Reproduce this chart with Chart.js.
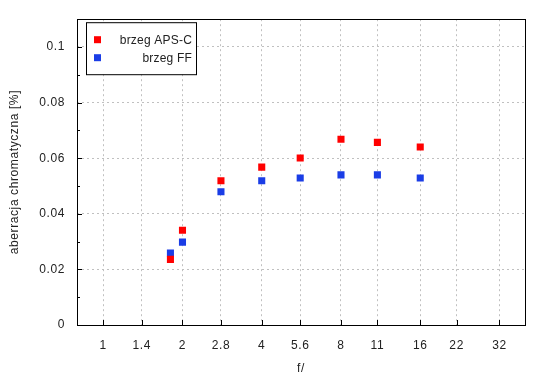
<!DOCTYPE html>
<html>
<head>
<meta charset="utf-8">
<script src="https://cdn.jsdelivr.net/npm/chart.js@4/dist/chart.umd.min.js"></script>
<style>
  html, body { margin: 0; padding: 0; background: #fff; }
  #wrap { width: 550px; height: 380px; }
</style>
</head>
<body>
<div id="wrap"><canvas id="chromChart" width="550" height="380"></canvas></div>
<script>
// przyslony (f/) dla punktow pomiarowych
const apertures = [1.8, 2, 2.8, 4, 5.6, 8, 11, 16];
// aberracja chromatyczna [%]
const edgeApsc = [0.0236, 0.0341, 0.0519, 0.0568, 0.0601, 0.0668, 0.0657, 0.0640];
const edgeFf = [0.0259, 0.0298, 0.0479, 0.0519, 0.0529, 0.0540, 0.0540, 0.0529];

// opisy osi
const fTicks = [1, 1.4, 2, 2.8, 4, 5.6, 8, 11, 16, 22, 32];
const fLabels = ["1", "1.4", "2", "2.8", "4", "5.6", "8", "11", "16", "22", "32"];
const yTicks = [0, 0.02, 0.04, 0.06, 0.08, 0.1];
const yLabels = ["0", "0.02", "0.04", "0.06", "0.08", "0.1"];
const yMinorTicks = [0.01, 0.03, 0.05, 0.07, 0.09];

const FONT = "'Liberation Sans', Arial, sans-serif";
const TEXT_COLOR = "#222";

function toPoints(ys) {
  return apertures.map((f, i) => ({ x: f, y: ys[i] }));
}

//troche szerszy tekst, jak w oryginale
const spacing = {
  id: "spacing",
  beforeDraw(chart) {
    chart.ctx.letterSpacing = "0.6px";
  },
};

//ramka wykresu + znaczniki do srodka (jak w gnuplocie)
const frameTicks = {
  id: "frameTicks",
  afterDraw(chart) {
    const ctx = chart.ctx;
    const a = chart.chartArea;
    const xs = chart.scales.x;
    const ys = chart.scales.y;
    ctx.save();
    ctx.strokeStyle = "#000";
    ctx.lineWidth = 1;
    ctx.beginPath();
    fTicks.forEach(v => {
      const px = Math.round(xs.getPixelForValue(v)) + 0.5;
      ctx.moveTo(px, a.bottom);
      ctx.lineTo(px, a.bottom - 5);
    });
    yTicks.forEach(v => {
      const py = Math.round(ys.getPixelForValue(v)) + 0.5;
      ctx.moveTo(a.left, py);
      ctx.lineTo(a.left + 5, py);
    });
    yMinorTicks.forEach(v => {
      const py = Math.round(ys.getPixelForValue(v)) + 0.5;
      ctx.moveTo(a.left, py);
      ctx.lineTo(a.left + 3, py);
    });
    ctx.stroke();
    ctx.strokeRect(Math.round(a.left) + 0.5, Math.round(a.top) + 0.5,
      Math.round(a.right - a.left), Math.round(a.bottom - a.top));
    ctx.restore();
  },
};

//legenda w ramce, tekst wyrownany do prawej
const boxLegend = {
  id: "boxLegend",
  afterDraw(chart) {
    const ctx = chart.ctx;
    const a = chart.chartArea;
    const left = a.left + 9, top = a.top + 3, w = 110, h = 52;
    ctx.save();
    ctx.letterSpacing = "0.2px";
    ctx.fillStyle = "#fff";
    ctx.fillRect(left, top, w, h);
    ctx.strokeStyle = "#000";
    ctx.lineWidth = 1;
    ctx.strokeRect(left + 0.5, top + 0.5, w, h);
    ctx.font = "12px " + FONT;
    ctx.textAlign = "right";
    ctx.textBaseline = "middle";
    chart.data.datasets.forEach((ds, i) => {
      const cy = top + 17 + i * 18;
      ctx.fillStyle = ds.backgroundColor;
      ctx.fillRect(left + 8, cy - 3, 7, 7);
      ctx.fillStyle = TEXT_COLOR;
      ctx.fillText(ds.label, left + w - 4, cy + 1);
    });
    ctx.restore();
  },
};

const config = {
  type: "scatter",
  data: {
    datasets: [
      {
        label: "brzeg APS-C",
        data: toPoints(edgeApsc),
        backgroundColor: "#ff0000",
        borderColor: "#ff0000",
        pointStyle: "rect",
        pointRadius: 5,
        borderWidth: 0,
      },
      {
        label: "brzeg FF",
        data: toPoints(edgeFf),
        backgroundColor: "#1a3de6",
        borderColor: "#1a3de6",
        pointStyle: "rect",
        pointRadius: 5,
        borderWidth: 0,
      },
    ],
  },
  options: {
    responsive: false,
    animation: false,
    layout: { padding: { left: 0, top: 16, right: 25, bottom: 0 } },
    plugins: {
      legend: { display: false },
      tooltip: { enabled: false },
    },
    scales: {
      x: {
        type: "logarithmic",
        min: 0.795,
        max: 40,
        afterBuildTicks: s => { s.ticks = fTicks.map(v => ({ value: v })); },
        afterFit: s => { s.height = 55; },
        grid: { color: "#c0c0c0", lineWidth: 1, drawTicks: false },
        border: { display: false, dash: [2, 3] },
        ticks: {
          autoSkip: false,
          maxRotation: 0,
          padding: 13,
          color: TEXT_COLOR,
          font: { family: FONT, size: 12 },
          callback: (v, i) => fLabels[i],
        },
        title: {
          display: true,
          text: "f/",
          color: TEXT_COLOR,
          font: { family: FONT, size: 12 },
          padding: { top: 4, bottom: 4 },
        },
      },
      y: {
        type: "linear",
        min: 0,
        max: 0.11,
        afterBuildTicks: s => { s.ticks = yTicks.map(v => ({ value: v })); },
        afterFit: s => { s.width = 77; },
        grid: { color: "#c0c0c0", lineWidth: 1, drawTicks: false },
        border: { display: false, dash: [2, 3] },
        ticks: {
          padding: 12,
          color: TEXT_COLOR,
          font: { family: FONT, size: 12 },
          callback: (v, i) => yLabels[i],
        },
        title: {
          display: true,
          text: "aberracja chromatyczna [%]",
          color: TEXT_COLOR,
          font: { family: FONT, size: 12 },
          padding: { top: 7, bottom: 7 },
        },
      },
    },
  },
  plugins: [spacing, frameTicks, boxLegend],
};

new Chart(document.getElementById("chromChart"), config);
</script>
</body>
</html>
